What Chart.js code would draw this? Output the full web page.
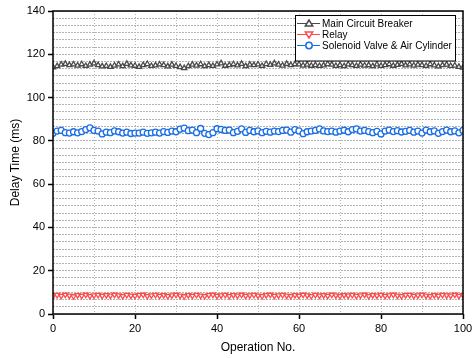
<!DOCTYPE html>
<html>
<head>
<meta charset="utf-8">
<script src="https://cdn.jsdelivr.net/npm/chart.js@4/dist/chart.umd.min.js"></script>
<style>
html,body{margin:0;padding:0;background:#fff;}
#wrap{width:472px;height:358px;position:relative;}
</style>
</head>
<body>
<div id="wrap"><canvas id="c" width="472" height="358"></canvas></div>
<script>
const operations = [0,1,2,3,4,5,6,7,8,9,10,11,12,13,14,15,16,17,18,19,20,21,22,23,24,25,26,27,28,29,30,31,32,33,34,35,36,37,38,39,40,41,42,43,44,45,46,47,48,49,50,51,52,53,54,55,56,57,58,59,60,61,62,63,64,65,66,67,68,69,70,71,72,73,74,75,76,77,78,79,80,81,82,83,84,85,86,87,88,89,90,91,92,93,94,95,96,97,98,99,100];

const mainCircuitBreaker = [114.0,114.5,115.2,115.6,115.0,115.3,114.8,115.4,114.6,115.2,115.8,115.0,114.4,114.6,114.2,114.8,115.3,114.5,115.6,114.9,114.7,114.2,115.0,115.5,114.6,114.9,115.3,115.0,114.4,115.2,114.6,114.1,113.6,114.5,115.2,114.8,115.4,114.5,115.0,114.6,115.3,115.8,114.7,115.0,115.4,114.9,115.6,114.5,115.2,115.0,115.3,114.6,115.5,115.1,115.8,115.2,114.8,115.6,115.0,115.4,115.3,114.8,115.2,114.7,115.0,114.6,114.9,115.5,115.2,114.6,115.0,114.5,115.3,115.0,114.6,115.2,114.8,115.0,114.5,115.3,114.6,115.0,115.4,114.7,115.1,115.6,114.9,115.3,114.8,115.2,115.0,114.6,115.4,114.9,114.4,115.0,115.2,114.6,114.8,114.2,113.8];

const relay = [8.2,8.8,8.4,8.9,8.5,8.2,8.7,8.4,8.9,8.3,8.6,8.8,8.4,8.7,8.5,8.9,8.6,8.3,8.8,8.5,8.4,8.7,8.9,8.3,8.6,8.8,8.4,8.7,8.3,8.6,8.9,8.5,8.2,8.7,8.4,8.8,8.5,8.3,8.7,8.9,8.4,8.6,8.8,8.3,8.7,8.5,8.9,8.4,8.6,8.8,8.5,8.3,8.7,8.9,8.4,8.6,8.8,8.5,8.3,8.7,8.4,8.9,8.6,8.3,8.8,8.5,8.7,8.4,8.9,8.6,8.3,8.7,8.5,8.8,8.4,8.6,8.9,8.3,8.7,8.5,8.8,8.4,8.6,8.9,8.5,8.3,8.7,8.8,8.4,8.6,8.9,8.5,8.3,8.7,8.4,8.8,8.6,8.5,8.9,8.4,8.7];

const solenoidValve = [83.5,84.5,84.8,83.8,83.6,84.2,83.7,84.3,85.2,86.0,84.8,84.5,83.2,84.0,83.8,84.6,84.2,83.6,84.0,83.4,83.6,83.6,84.0,83.5,83.7,84.0,83.6,84.3,83.9,84.5,84.2,85.4,85.9,84.7,85.0,83.8,85.7,83.5,82.9,83.8,85.6,85.3,84.8,85.0,83.8,84.4,85.5,83.9,84.8,84.2,84.6,83.8,84.4,84.0,84.5,84.3,84.8,85.0,84.0,85.2,84.6,83.3,84.2,84.5,84.8,85.5,84.6,84.3,84.5,84.0,84.5,84.9,84.2,85.2,85.5,84.5,84.8,84.3,83.8,84.4,83.2,84.5,85.0,84.3,84.7,84.1,84.4,84.8,84.0,84.5,83.6,85.0,84.2,84.6,83.5,84.3,85.0,84.2,84.6,83.7,84.8];

const seriesNames = ['Main Circuit Breaker','Relay','Solenoid Valve & Air Cylinder'];
const xTickLabels = [0,20,40,60,80,100];
const yTickLabels = [0,20,40,60,80,100,120,140];
const yMinorPerMajor = 6;

function pts(vals){ return operations.map((x,i)=>({x:x,y:vals[i]})); }

const colors = ['#4a4a4a','#ff4a4a','#1a6ee6'];
const styles = [{style:'triangle',rot:0},{style:'triangle',rot:180},{style:'circle',rot:0}];

function isMajor(v, step){ return Math.abs(v/step - Math.round(v/step)) < 1e-6; }

const legendPlugin = {
  id:'insideLegend',
  afterDraw(chart){
    const ctx = chart.ctx, a = chart.chartArea;
    ctx.save();
    const bx = 295.5, by = 15.5, bw = 160, bh = 45.5;
    ctx.fillStyle = '#fff';
    ctx.fillRect(bx, by, bw, bh);
    ctx.strokeStyle = '#000';
    ctx.lineWidth = 1;
    ctx.strokeRect(bx, by, bw, bh);
    const rows = [23.5, 34.5, 45.5];
    ctx.font = '10px "Liberation Sans", Arial, sans-serif';
    ctx.textBaseline = 'middle';
    ctx.textAlign = 'left';
    chart.data.datasets.forEach((ds, i) => {
      const y = rows[i];
      ctx.strokeStyle = ds.borderColor;
      ctx.lineWidth = 1;
      ctx.beginPath(); ctx.moveTo(297, y); ctx.lineTo(320, y); ctx.stroke();
      ctx.lineWidth = 1.5;
      ctx.fillStyle = '#fff';
      const cx = 309, r = 3.2;
      ctx.beginPath();
      if (styles[i].style === 'circle') {
        ctx.arc(cx, y, r, 0, Math.PI*2);
      } else {
        const dir = styles[i].rot === 180 ? -1 : 1;
        ctx.moveTo(cx, y - dir*r*1.1);
        ctx.lineTo(cx - r*1.15, y + dir*r*0.75);
        ctx.lineTo(cx + r*1.15, y + dir*r*0.75);
        ctx.closePath();
      }
      ctx.fill(); ctx.stroke();
      ctx.fillStyle = '#000';
      ctx.fillText(ds.label, 322, y + 0.5);
    });
    ctx.strokeStyle = '#000';
    ctx.lineWidth = 1.5;
    ctx.strokeRect(a.left, a.top, a.right - a.left, a.bottom - a.top);
    ctx.restore();
  }
};

const datasets = [mainCircuitBreaker, relay, solenoidValve].map((vals, i) => ({
  label: seriesNames[i],
  data: pts(vals),
  borderColor: colors[i],
  backgroundColor: '#ffffff',
  borderWidth: 1,
  pointStyle: styles[i].style,
  rotation: styles[i].rot,
  pointRadius: 3,
  pointBorderWidth: 1.3,
  pointBorderColor: colors[i],
  pointBackgroundColor: '#ffffff',
  tension: 0,
  fill: false
}));

new Chart(document.getElementById('c'), {
  type: 'line',
  data: { datasets },
  options: {
    responsive: false,
    animation: false,
    devicePixelRatio: 1,
    layout: { padding: { top: 11, right: 9, left: 0, bottom: 0 } },
    plugins: { legend: { display: false }, tooltip: { enabled: false } },
    scales: {
      x: {
        type: 'linear', min: 0, max: 100,
        ticks: {
          stepSize: 10,
          autoSkip: false,
          maxRotation: 0,
          padding: 3,
          color: '#000',
          font: { family: '"Liberation Sans", Arial, sans-serif', size: 11 },
          callback: (v) => (xTickLabels.indexOf(v) >= 0 ? String(v) : '')
        },
        grid: {
          color: '#b4b4b4',
          lineWidth: 1,
          drawTicks: true,
          tickLength: 5,
          tickWidth: 1.5,
          tickColor: (c) => (c.tick && xTickLabels.indexOf(c.tick.value) >= 0 ? '#000' : 'rgba(0,0,0,0)')
        },
        border: { display: false, dash: [1, 2] },
        title: {
          display: true, text: 'Operation No.', color: '#000',
          font: { family: '"Liberation Sans", Arial, sans-serif', size: 12 },
          padding: { top: 0, bottom: 3 }
        },
        afterFit: (s) => { s.height = 44; s.paddingRight = 0; s.paddingLeft = 0; }
      },
      y: {
        type: 'linear', min: 0, max: 140,
        afterBuildTicks: (s) => {
          const t = [];
          const n = (yTickLabels.length - 1) * yMinorPerMajor;
          const step = (yTickLabels[1] - yTickLabels[0]) / yMinorPerMajor;
          for (let k = 0; k <= n; k++) t.push({ value: yTickLabels[0] + k * step });
          s.ticks = t;
        },
        ticks: {
          autoSkip: false,
          padding: 3,
          color: '#000',
          font: { family: '"Liberation Sans", Arial, sans-serif', size: 11 },
          callback: (v) => (isMajor(v, 20) ? String(Math.round(v)) : '')
        },
        grid: {
          color: '#b4b4b4',
          lineWidth: 1,
          drawTicks: true,
          tickLength: 5,
          tickWidth: 1.5,
          tickColor: (c) => (c.tick && isMajor(c.tick.value, 20) ? '#000' : 'rgba(0,0,0,0)')
        },
        border: { display: false, dash: [2, 1] },
        title: {
          display: true, text: 'Delay Time (ms)', color: '#000',
          font: { family: '"Liberation Sans", Arial, sans-serif', size: 12 },
          padding: { top: 8, bottom: 0 }
        },
        afterFit: (s) => { s.width = 53; s.paddingTop = 0; s.paddingBottom = 0; }
      }
    }
  },
  plugins: [legendPlugin]
});
</script>
</body>
</html>
